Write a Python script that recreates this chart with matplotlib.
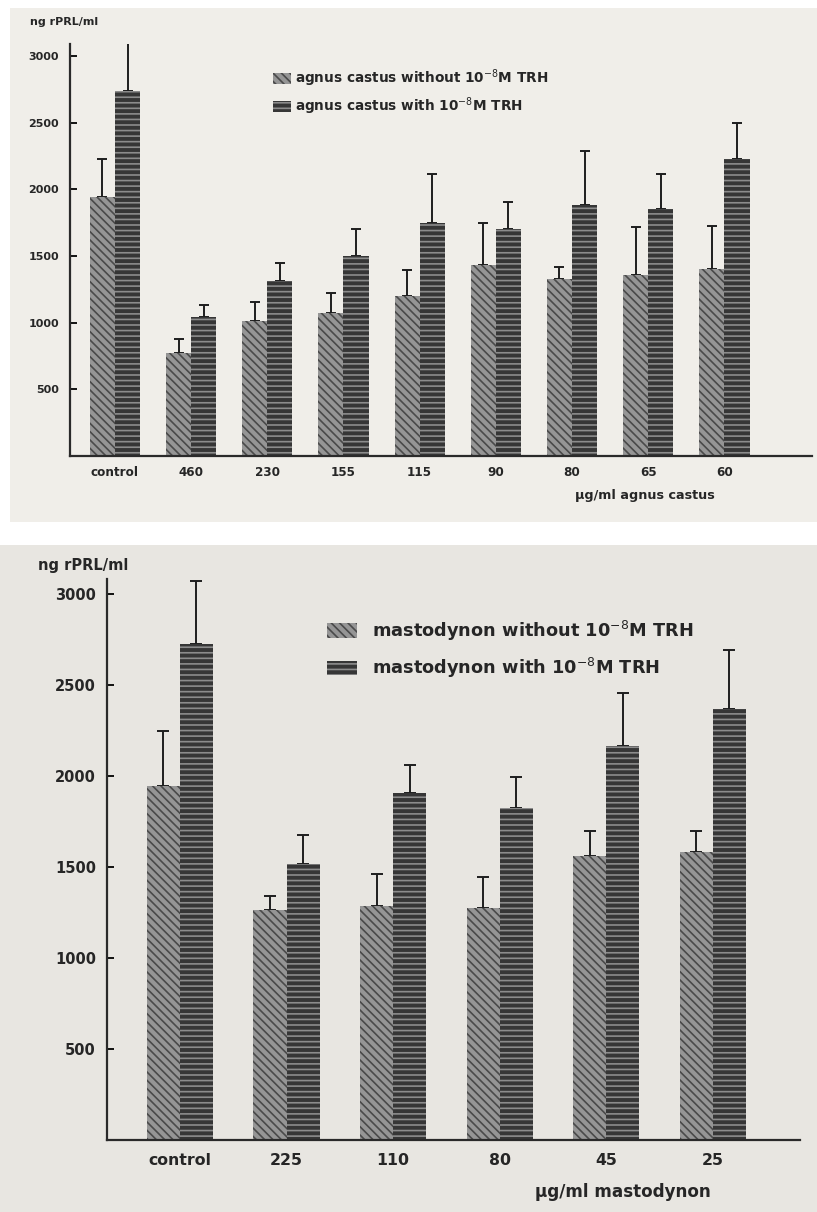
import numpy as np
import matplotlib.pyplot as plt
from matplotlib.patches import Rectangle

# top chart: agnus castus
doses1 = ['control', '460', '230', '155', '115', '90', '80', '65', '60']
without1 = [1940, 770, 1010, 1070, 1200, 1430, 1325, 1360, 1405]
without1_sd = [290, 110, 145, 155, 195, 320, 95, 360, 320]
with1 = [2740, 1040, 1310, 1500, 1745, 1705, 1885, 1850, 2225]
with1_sd = [355, 95, 140, 205, 370, 200, 405, 265, 270]

# bottom chart: mastodynon
doses2 = ['control', '225', '110', '80', '45', '25']
without2 = [1945, 1265, 1285, 1275, 1560, 1580]
without2_sd = [300, 75, 175, 170, 140, 115]
with2 = [2725, 1515, 1905, 1825, 2165, 2370]
with2_sd = [345, 160, 155, 170, 290, 320]

yticks = [500, 1000, 1500, 2000, 2500, 3000]

plt.rcParams['hatch.linewidth'] = 1.2
W, H = 817, 1212
fig = plt.figure(figsize=(W / 100, H / 100), dpi=100, facecolor='white')

# paper sheets
fig.add_artist(Rectangle((10 / W, 1 - 522 / H), 807 / W, 514 / H, transform=fig.transFigure,
                         facecolor='#f0eee9', edgecolor='none', zorder=-10))
fig.add_artist(Rectangle((0, 0), 1, 1 - 545 / H, transform=fig.transFigure,
                         facecolor='#e8e6e1', edgecolor='none', zorder=-10))

txt = '#262626'


def panel(ax, doses, wo, wo_sd, wi, wi_sd, width, fs, cap, name, ylab_xy, xlab_xy,
          leg_xy, leg_fs, hl, hpad, lsp):
    x = np.arange(len(doses))
    ax.set_facecolor('none')
    ax.bar(x - width / 2, wo, width, color='#959595', edgecolor='#4a4a4a', linewidth=0,
           hatch='\\\\\\\\', label=name + ' without 10$^{-8}$M TRH', zorder=2)
    ax.bar(x + width / 2, wi, width, color='#363636', edgecolor='#8c8c8c', linewidth=0,
           hatch='---', label=name + ' with 10$^{-8}$M TRH', zorder=2)
    # one-sided error bars, lower cap hidden behind the bar
    ax.errorbar(x - width / 2, wo, yerr=[np.zeros(len(wo)), wo_sd], fmt='none',
                ecolor='#1e1e1e', elinewidth=1.4, capsize=cap, capthick=1.4, zorder=1)
    ax.errorbar(x + width / 2, wi, yerr=[np.zeros(len(wi)), wi_sd], fmt='none',
                ecolor='#1e1e1e', elinewidth=1.4, capsize=cap, capthick=1.4, zorder=1)

    for s in ['top', 'right']:
        ax.spines[s].set_visible(False)
    for s in ['left', 'bottom']:
        ax.spines[s].set_linewidth(1.6)
        ax.spines[s].set_color('#2a2a2a')

    ax.set_yticks(yticks)
    ax.set_yticklabels([str(t) for t in yticks], fontsize=fs, fontweight='bold', color=txt)
    ax.tick_params(axis='y', direction='in', length=5, width=1.3, pad=8)
    ax.set_xticks(x)
    ax.set_xticklabels(doses, fontsize=fs * 1.08, fontweight='bold', color=txt)
    ax.tick_params(axis='x', length=0, pad=fs * 0.9)

    ax.text(ylab_xy[0], ylab_xy[1], 'ng rPRL/ml', transform=ax.transAxes, fontsize=fs,
            fontweight='bold', color=txt, ha='left', va='center')
    ax.text(xlab_xy[0], xlab_xy[1], '\u00b5g/ml ' + name, transform=ax.transAxes,
            fontsize=fs * 1.15, fontweight='bold', color=txt, ha='center', va='center')
    leg = ax.legend(loc='upper left', bbox_to_anchor=leg_xy, frameon=False, fontsize=leg_fs,
                    handlelength=hl, handleheight=0.9, handletextpad=hpad, labelspacing=lsp,
                    borderpad=0, borderaxespad=0)
    for t in leg.get_texts():
        t.set_fontweight('bold')
        t.set_color(txt)


ax1 = fig.add_axes([70 / W, 1 - 456 / H, 742 / W, 412 / H])
ax1.set_xlim(-0.59, 9.15)
ax1.set_ylim(0, 3090)
panel(ax1, doses1, without1, without1_sd, with1, with1_sd, 0.33, 8, 3.5, 'agnus castus',
      (-0.054, 1.053), (0.775, -0.095), (0.273, 0.943), 9.8, 1.36, 0.3, 0.5)

ax2 = fig.add_axes([107 / W, 0.0594, 693 / W, 0.5220 - 0.0594])
ax2.set_xlim(-0.685, 5.82)
ax2.set_ylim(0, 3080)
panel(ax2, doses2, without2, without2_sd, with2, with2_sd, 0.31, 10.5, 4.5, 'mastodynon',
      (-0.1, 1.024), (0.745, -0.093), (0.318, 0.93), 12.8, 1.65, 0.85, 0.75)

fig.savefig('out.png', dpi=100, facecolor=fig.get_facecolor())
